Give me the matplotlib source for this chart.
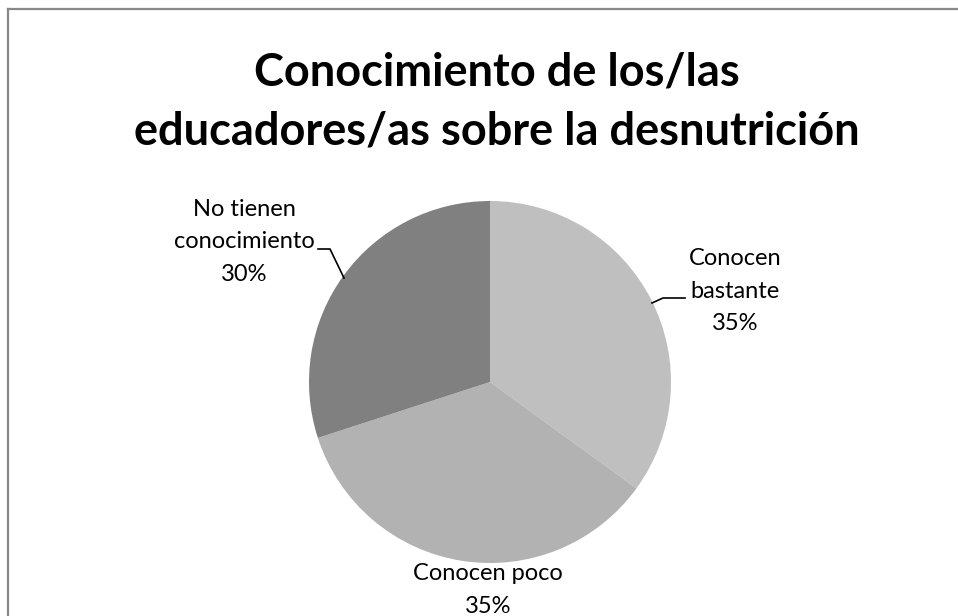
import matplotlib
matplotlib.use('Agg')
import matplotlib.pyplot as plt
from matplotlib.lines import Line2D

plt.rcParams['font.family'] = ['Lato', 'DejaVu Sans']

# datos
etiquetas = ['Conocen\nbastante', 'Conocen poco', 'No tienen\nconocimiento']
valores = [35, 35, 30]
colores = ['#bfbfbf', '#b2b2b2', '#808080']
titulo = 'Conocimiento de los/las\neducadores/as sobre la desnutrición'

W, H = 958, 616
fig = plt.figure(figsize=(W / 100, H / 100), dpi=100)

# marco (solo borde izquierdo y superior visibles)
fig.add_artist(Line2D([7.5 / W, 7.5 / W], [0, 1 - 9 / H], transform=fig.transFigure,
                      color='#888888', lw=1.6))
fig.add_artist(Line2D([7.5 / W, 1], [1 - 9 / H, 1 - 9 / H], transform=fig.transFigure,
                      color='#888888', lw=1.6))

fig.text(497 / W, 1 - 102 / H, titulo, ha='center', va='center', fontsize=32.5,
         fontweight='bold', linespacing=1.5)

# pastel: centro (490, 382) px, radio 181 px
cx, cy, r = 490, 382, 181
ax = fig.add_axes([(cx - r) / W, (H - cy - r) / H, 2 * r / W, 2 * r / H])
ax.pie(valores, colors=colores, startangle=90, counterclock=False,
       wedgeprops=dict(linewidth=0), radius=1)
ax.set_xlim(-1, 1)
ax.set_ylim(-1, 1)
ax.axis('off')

def px(x, y):
    return (x - cx) / r, (cy - y) / r

# etiquetas
pos = [(735, 291), (488, 590), (244, 242)]
for lab, v, (x, y) in zip(etiquetas, valores, pos):
    tx, ty = px(x, y)
    ax.text(tx, ty, f'{lab}\n{v}%', ha='center', va='center', fontsize=17,
            linespacing=1.65, clip_on=False)

# líneas guía
for pts in [[(652, 303), (663, 298), (685, 298)],
            [(318, 249), (330, 249), (344, 278)]]:
    xs, ys = zip(*[px(a, b) for a, b in pts])
    ax.plot(xs, ys, color='black', lw=1.2, clip_on=False)

fig.savefig('out.png', dpi=100)
